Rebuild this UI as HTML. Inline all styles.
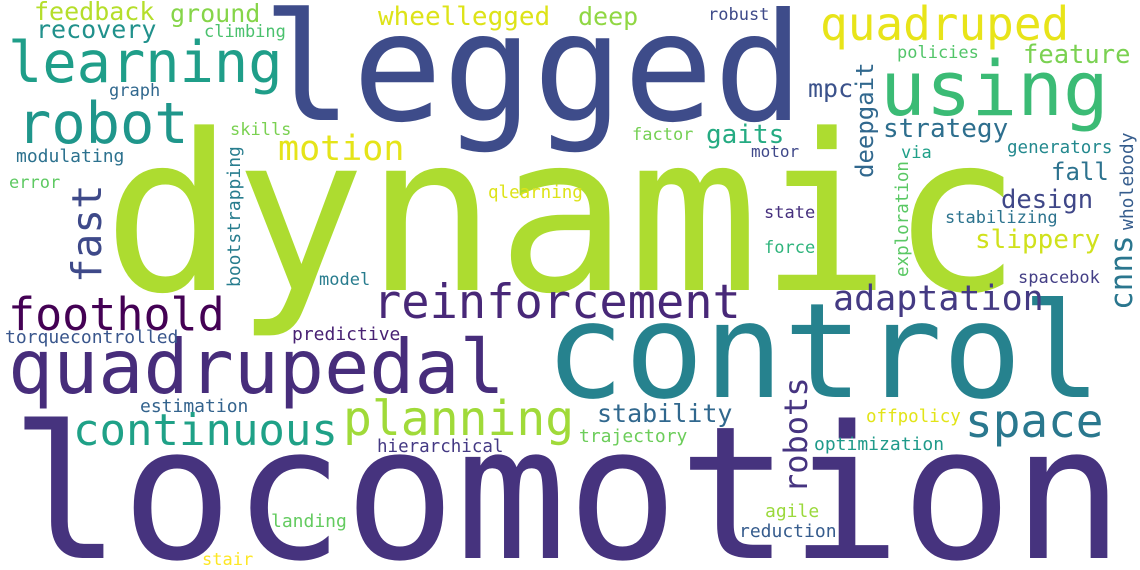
<!DOCTYPE html>
<html><head><meta charset="utf-8"><style>
html,body{margin:0;padding:0;background:#fff;overflow:hidden;width:1140px;height:570px;}
svg{display:block;}
text{font-family:"DejaVu Sans Mono","Liberation Mono",monospace;}
</style></head><body>
<svg width="1140" height="570" viewBox="0 0 1140 570">
<rect width="1140" height="570" fill="#fff"/>
<g id="words"></g>
</svg>
<script>
const words = ["dynamic","legged","locomotion","control","using","learning","robot","quadruped","quadrupedal","reinforcement","foothold","continuous","planning","space","adaptation","motion","stability","slippery","design","fall","strategy","feature","gaits","mpc","wheellegged","deep","ground","feedback","recovery","climbing","robust","policies","graph","skills","modulating","error","factor","motor","via","generators","qlearning","state","stabilizing","force","model","spacebok","predictive","torquecontrolled","estimation","offpolicy","hierarchical","trajectory","optimization","landing","agile","reduction","stair","fast","robots","deepgait","cnns","bootstrapping","exploration","wholebody"];
const sizes = [218,150,185,132,76,57,57,46,75,47,45,44,48,46,35,35,25,26,25.5,24,26,25.5,26,25,26,25,25,25,25,17,17,17,17,17,18,17,17,16,17,17.5,17.5,17,17,17,17,17,18,18,18,17.5,17.5,18,18,18,18,18,17,41,32,24,31,18,17.5,18];
const xs = [103,262,10,545,880,8,17,820,8,373,8,73,343,965,833,278,597,975,1001,1051,883,1023,706,808,378,578,170,34,36,204,708,897,109,230,16,9,632,751,901,1007,488,764,945,764,319,1018,292,5,140,866,377,579,814,271,765,739,202,101,807,873,1132,240,908,1133];
const ys = [290,120,558,397,115,82,143,40,393,318,330,445,435,437,310,160,422,248,208,180,137,63,143,97,25,25,22,20,38,37,20,58,96,135,162,188,140,157,158,153,198,218,223,253,285,283,340,343,412,422,452,442,450,527,517,537,565,283,493,178,310,287,277,230];
const rot = [0,0,0,0,0,0,0,0,0,0,0,0,0,0,0,0,0,0,0,0,0,0,0,0,0,0,0,0,0,0,0,0,0,0,0,0,0,0,0,0,0,0,0,0,0,0,0,0,0,0,0,0,0,0,0,0,0,1,1,1,1,1,1,1];
const colors = ["#addc30","#3e4c8a","#46337e","#26828e","#3bbb75","#1f9e89","#1f968b","#e8e419","#472d7b","#482878","#440154","#1fa187","#a0da39","#2a788e","#443a83","#e5e419","#31688e","#d0e11c","#3f4788","#2c728e","#2e6f8e","#7ad151","#25ab82","#3b528b","#dde318","#90d743","#86d549","#b5de2b","#21918c","#4ac16d","#3e4a89","#52c569","#31688e","#7ad151","#2c718e","#5ec962","#75d054","#3f4889","#1fa088","#23898e","#dde318","#46307e","#2c738e","#2fb47c","#287c8e","#433e85","#482173","#39568c","#33638d","#e2e418","#443983","#6ccd5a","#1f9a8a","#63cb5f","#9bd93c","#365c8d","#fde725","#3e4989","#463480","#31688e","#2a768e","#287d8e","#5ac864","#365d8d"];
const g = document.getElementById('words');
words.forEach((w,i)=>{
  const t = document.createElementNS('http://www.w3.org/2000/svg','text');
  
  
  t.setAttribute('font-size', sizes[i]);
  t.setAttribute('fill', colors[i]);
  if (rot[i]) {
    t.setAttribute('transform', 'translate(' + xs[i] + ',' + ys[i] + ') rotate(-90)');
  } else {
    t.setAttribute('x', xs[i]);
    t.setAttribute('y', ys[i]);
  }
  t.textContent = w;
  g.appendChild(t);
});
</script>
</body></html>
